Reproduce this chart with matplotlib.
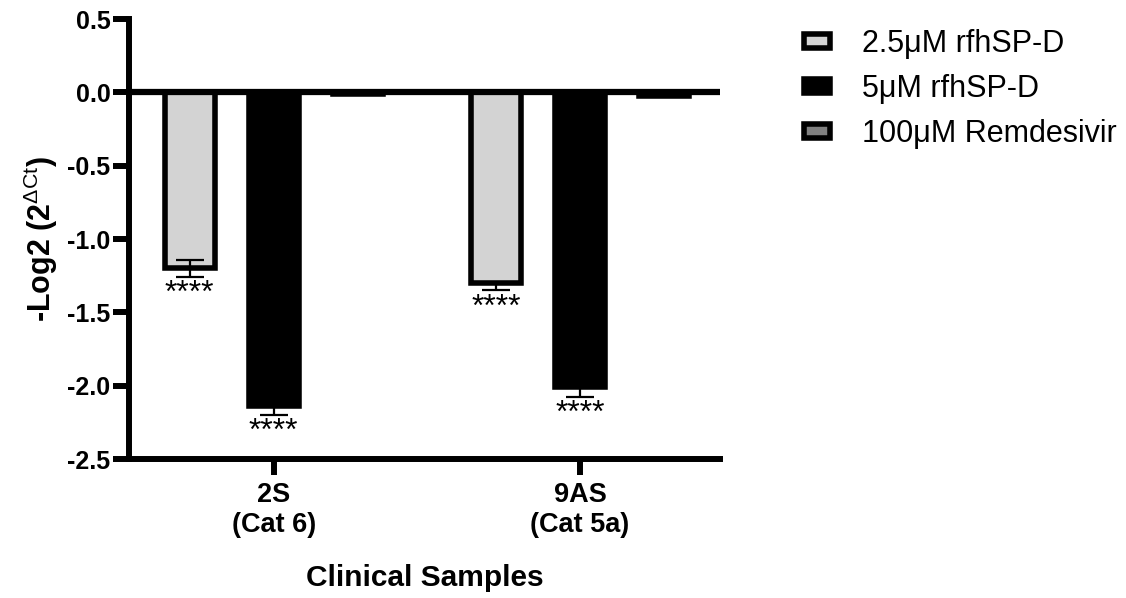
import numpy as np
import matplotlib
matplotlib.use("Agg")
import matplotlib.pyplot as plt
from matplotlib.patches import Patch

plt.rcParams['font.family'] = ['Liberation Sans', 'DejaVu Sans']
plt.rcParams['axes.unicode_minus'] = False
plt.rcParams['mathtext.fontset'] = 'custom'
plt.rcParams['mathtext.rm'] = 'Liberation Sans'
plt.rcParams['mathtext.it'] = 'Liberation Sans'

# data
samples = ['2S\n(Cat 6)', '9AS\n(Cat 5a)']
treatments = ['2.5\u03bcM rfhSP-D', '5\u03bcM rfhSP-D', '100\u03bcM Remdesivir']
colors = ['#d3d3d3', '#000000', '#808080']
means = [[-1.20, -2.14, -0.008],
         [-1.30, -2.01, -0.025]]
err_lo = [[0.06, 0.06, 0.0],
          [0.05, 0.065, 0.0]]
err_hi = [[0.06, 0.06, 0.0],
          [0.0, 0.065, 0.0]]
stars = [['****', '****', ''],
         ['****', '****', '']]

fig = plt.figure(figsize=(11.26, 5.98), dpi=100)
ax = fig.add_axes([0.1146, 0.2324, 0.5249, 0.7358])

x = np.arange(len(samples))
offs = [-0.274, 0.0, 0.274]
w = 0.163

for j in range(len(treatments)):
    xs = x + offs[j]
    vals = [means[i][j] for i in range(len(samples))]
    ax.bar(xs, vals, width=w, color=colors[j], edgecolor='black',
           linewidth=4, zorder=2)
    lo = [err_lo[i][j] for i in range(len(samples))]
    hi = [err_hi[i][j] for i in range(len(samples))]
    if max(lo) > 0:
        ax.errorbar(xs, vals, yerr=[lo, hi], fmt='none', ecolor='black',
                    elinewidth=1.6, capsize=10, capthick=1.6, zorder=3)
    for i in range(len(samples)):
        if stars[i][j]:
            ax.annotate(stars[i][j], (xs[i], vals[i] - lo[i]), xytext=(0, -1.5),
                        textcoords='offset points', ha='center', va='top',
                        fontsize=23)

ax.axhline(0, color='black', lw=4.5, zorder=4)

ax.set_xlim(-0.472, 1.457)
ax.set_ylim(-2.5, 0.5)
ax.set_yticks(np.arange(-2.5, 0.51, 0.5))
ax.set_yticklabels(['%.1f' % v for v in np.arange(-2.5, 0.51, 0.5)])
ax.set_xticks(x)
ax.set_xticklabels(samples)

for s in ['top', 'right']:
    ax.spines[s].set_visible(False)
for s in ['left', 'bottom']:
    ax.spines[s].set_linewidth(4.3)
ax.tick_params(axis='both', length=11.5, width=4.3)
ax.tick_params(axis='y', pad=2, labelsize=18)
ax.tick_params(axis='x', pad=5, labelsize=19.5)
for lab in ax.get_xticklabels() + ax.get_yticklabels():
    lab.set_fontweight('bold')

ax.set_ylabel(r'-Log2 (2$^{\mathrm{\Delta Ct}}$)', fontsize=22,
              fontweight='bold')
ax.yaxis.set_label_coords(-0.117, 0.5)
ax.set_xlabel('Clinical Samples', fontsize=21.5, fontweight='bold')
ax.xaxis.set_label_coords(0.5, -0.238)

handles = [Patch(facecolor=c, edgecolor='black', linewidth=4) for c in colors]
fig.legend(handles, treatments, loc='upper left', bbox_to_anchor=(0.714, 0.952),
           frameon=False, fontsize=22, handlelength=0.85, handleheight=0.32,
           handletextpad=1.05, labelspacing=0.5, borderpad=0, borderaxespad=0)

fig.savefig('out.png', dpi=100)
